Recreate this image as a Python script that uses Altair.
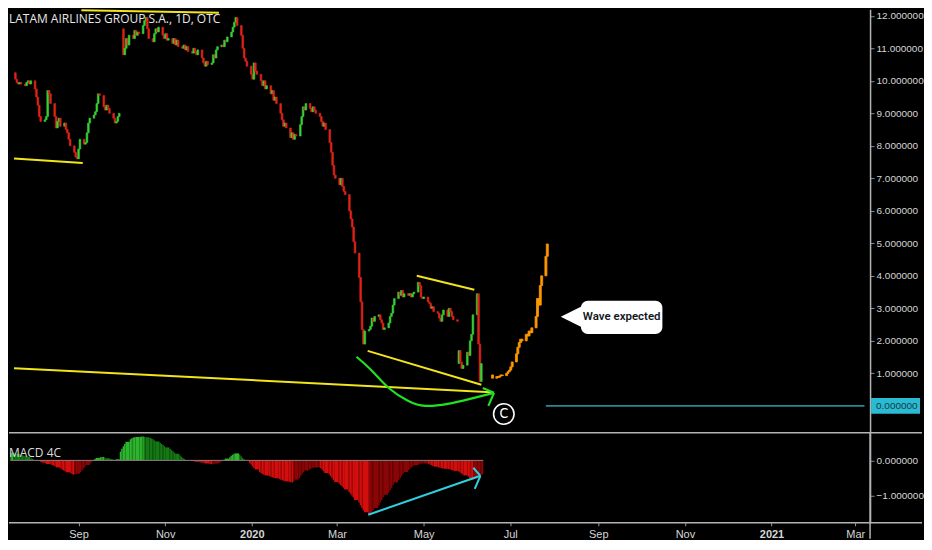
import altair as alt
import pandas as pd

# ---------------- data ----------------
title_text = "LATAM AIRLINES GROUP S.A., 1D, OTC"

# daily closes, business days 2019-07-15 .. 2020-06-11 (5 per row = one week)
closes = [
    10.05, 9.95, 9.9, 9.95, 9.9,
    9.85, 9.95, 10.0, 9.9, 10.0,
    9.75, 9.5, 9.25, 8.9, 8.75,
    8.8, 8.9, 9.7, 9.6, 9.3,
    8.9, 8.55, 8.75, 8.85, 8.6,
    8.7, 8.5, 8.4, 8.2, 8.0,
    7.8, 7.65, 7.6, 7.9, 8.2,
    8.05, 8.1, 8.4, 8.7, 8.85,
    8.95, 9.05, 9.3, 9.6, 9.55,
    9.2, 9.1, 9.25, 9.15, 9.0,
    8.85, 8.7, 8.75, 8.9, 9.0,
    10.8, 11.0, 11.3, 11.1, 11.4,
    11.3, 11.55, 11.4, 11.5, 11.45,
    11.7, 11.85, 11.95, 11.6, 11.3,
    11.2, 11.45, 11.6, 11.5, 11.65,
    11.4, 11.3, 11.45, 11.25, 11.3,
    11.15, 11.3, 11.1, 11.25, 11.05,
    11.0, 11.1, 10.95, 11.05, 10.9,
    10.85, 11.0, 10.9, 10.8, 10.95,
    10.7, 10.55, 10.45, 10.6, 10.5,
    10.55, 10.8, 10.7, 10.95, 11.05,
    11.1, 11.05, 11.25, 11.2, 11.35,
    11.5, 11.65, 11.8, 11.95, 11.7,
    11.4, 11.0, 10.7, 10.6, 10.45,
    10.2, 10.05, 10.55, 10.3, 10.2,
    10.0, 9.85, 10.0, 9.75, 9.85,
    9.6, 9.7, 9.4, 9.5, 9.3,
    9.0, 8.8, 8.6, 8.7, 8.55,
    8.25, 8.4, 8.2, 8.35, 8.3,
    8.65, 8.9, 9.2, 9.1, 9.3,
    9.15, 9.05, 9.2, 9.1, 9.0,
    8.9, 8.75, 8.6, 8.7, 8.5,
    8.1, 7.8, 7.4, 7.1, 7.0,
    6.8, 7.0, 6.75, 6.6, 6.5,
    6.0, 5.75, 5.5, 5.05, 4.7,
    3.95, 3.2, 2.35, 1.9, 2.3,
    2.35, 2.45, 2.7, 2.6, 2.75,
    2.8, 2.65, 2.55, 2.35, 2.4,
    2.55, 2.75, 2.85, 3.1, 3.3,
    3.5, 3.4, 3.55, 3.35, 3.45,
    3.4, 3.45, 3.35, 3.45, 3.5,
    3.8, 3.7, 3.35, 3.3, 3.35,
    3.2, 3.15, 3.0, 3.05, 2.9,
    2.85, 2.7, 2.6, 2.8, 2.95,
    2.75, 3.0, 2.9, 2.75, 2.65,
    2.6, 1.7, 1.35, 1.15, 1.25,
    1.65, 1.55, 2.0, 2.2, 2.8,
    3.45, 1.9, 0.75, 1.3,
]
# opens that differ from the previous close (price gaps)
gap_opens = {"2019-07-15": 10.25, "2019-09-30": 11.6, "2020-05-26": 1.3}

# MACD 4C histogram, same business days
macd = [
    0.22, 0.22, 0.21, 0.20, 0.19,
    0.16, 0.15, 0.13, 0.12, 0.10,
    0.06, 0.04, 0.02, 0.00, -0.02,
    -0.05, -0.06, -0.07, -0.08, -0.10,
    -0.12, -0.13, -0.15, -0.17, -0.20,
    -0.23, -0.26, -0.29, -0.31, -0.34,
    -0.37, -0.39, -0.41, -0.40, -0.38,
    -0.33, -0.28, -0.23, -0.18, -0.13,
    -0.08, -0.03, 0.01, 0.04, 0.07,
    0.09, 0.10, 0.10, 0.08, 0.06,
    0.04, 0.03, 0.02, 0.01, 0.03,
    0.25, 0.33, 0.40, 0.47, 0.53,
    0.60, 0.63, 0.65, 0.66, 0.67,
    0.67, 0.68, 0.68, 0.67, 0.66,
    0.64, 0.62, 0.60, 0.57, 0.54,
    0.50, 0.47, 0.44, 0.40, 0.37,
    0.33, 0.29, 0.26, 0.22, 0.19,
    0.14, 0.10, 0.07, 0.04, 0.01,
    -0.01, -0.02, -0.02, -0.03, -0.04,
    -0.05, -0.06, -0.07, -0.08, -0.09,
    -0.10, -0.11, -0.11, -0.10, -0.09,
    -0.07, -0.04, -0.01, 0.02, 0.05,
    0.09, 0.13, 0.16, 0.19, 0.20,
    0.17, 0.12, 0.07, 0.03, 0.00,
    -0.08, -0.12, -0.17, -0.22, -0.26,
    -0.33, -0.36, -0.39, -0.41, -0.43,
    -0.45, -0.47, -0.48, -0.50, -0.51,
    -0.53, -0.55, -0.57, -0.58, -0.60,
    -0.61, -0.62, -0.63, -0.60, -0.55,
    -0.50, -0.44, -0.38, -0.33, -0.29,
    -0.26, -0.24, -0.22, -0.21, -0.20,
    -0.20, -0.22, -0.26, -0.31, -0.36,
    -0.40, -0.45, -0.50, -0.56, -0.62,
    -0.66, -0.70, -0.74, -0.78, -0.83,
    -0.90, -0.95, -1.00, -1.06, -1.13,
    -1.20, -1.28, -1.35, -1.42, -1.48,
    -1.55, -1.52, -1.47, -1.42, -1.36,
    -1.28, -1.20, -1.13, -1.06, -0.98,
    -0.92, -0.85, -0.78, -0.70, -0.63,
    -0.56, -0.50, -0.44, -0.38, -0.33,
    -0.28, -0.24, -0.20, -0.17, -0.14,
    -0.12, -0.10, -0.09, -0.09, -0.09,
    -0.10, -0.12, -0.14, -0.16, -0.18,
    -0.20, -0.21, -0.22, -0.23, -0.24,
    -0.25, -0.26, -0.27, -0.28, -0.30,
    -0.31, -0.34, -0.37, -0.40, -0.43,
    -0.46, -0.50, -0.53, -0.55, -0.52,
    -0.48, -0.45, -0.42, -0.40,
]

# projected path (orange bars)
proj_dates = ["2020-06-19", "2020-06-22", "2020-06-23", "2020-06-24", "2020-06-25",
              "2020-06-26", "2020-06-29", "2020-06-30", "2020-07-01", "2020-07-02",
              "2020-07-03", "2020-07-06", "2020-07-07", "2020-07-08", "2020-07-09",
              "2020-07-10", "2020-07-13", "2020-07-14", "2020-07-15", "2020-07-16",
              "2020-07-17", "2020-07-20", "2020-07-21", "2020-07-22", "2020-07-23",
              "2020-07-24", "2020-07-27", "2020-07-28"]
proj_close = [0.85, 0.9, 0.88, 0.92, 0.95, 0.93, 1.0, 1.05, 1.1, 1.2,
              1.35, 1.6, 1.8, 1.95, 2.05, 2.0, 2.2, 2.15, 2.3, 2.25,
              2.4, 2.75, 3.3, 3.1, 3.7, 4.0, 4.6, 4.98]
proj_first_open = 0.95

# drawn trend lines (yellow): start date, start price, end date, end price
yl_d1 = ["2019-08-31", "2019-07-14", "2020-04-26", "2020-03-22", "2019-07-14"]
yl_p1 = [12.17, 7.61, 4.0, 1.69, 1.16]
yl_d2 = ["2019-12-07", "2019-09-01", "2020-06-06", "2020-06-11", "2020-06-18"]
yl_p2 = [12.09, 7.47, 3.57, 0.65, 0.42]

# green curved arrow
arc_dates = ["2020-03-14", "2020-03-25", "2020-04-06", "2020-04-20", "2020-05-02",
             "2020-05-18", "2020-06-03", "2020-06-20"]
arc_prices = [1.51, 1.08, 0.55, 0.15, 0.0, 0.06, 0.215, 0.4]
arc_head_d = ["2020-06-12", "2020-06-16"]
arc_head_p = [0.55, 0.0]

wave_label = "Wave expected"
wave_date = "2020-09-19"
wave_price = 2.72
box_d = ["2020-08-21", "2020-10-18"]
box_p = [3.23, 2.21]
pointer_date = "2020-08-15"
pointer_price = 2.74

circle_date = "2020-06-27"
circle_price = -0.25
circle_text = "C"

level_line = ("2020-07-27", "2021-03-11", 0.0)
level_label = "0.000000"

# cyan arrow on MACD
macd_arrow = [("2020-03-23", -1.55, "2020-06-10", -0.44),
              ("2020-06-10", -0.44, "2020-06-05", -0.21),
              ("2020-06-10", -0.44, "2020-06-06", -0.81)]
macd_label = "MACD 4C"

price_ticks = [1, 2, 3, 4, 5, 6, 7, 8, 9, 10, 11, 12]
macd_ticks = [0, -1]

# ---------------- styling ----------------
W, HP, HM = 862, 424, 90
BG = "#000000"
UP, DOWN = "#35d335", "#e2231a"
ORANGE = "#ff9800"
YELLOW = "#f2e51c"
ARC = "#22e022"
TEAL = "#2d8793"
BOXC = "#2bbad3"
CYAN = "#30d0e0"
LINEC = "#b4b4b4"
LABELC = "#d6d6d6"
AXFONT = "Liberation Sans"
AXFS = 10

x_dom = [alt.DateTime(year=2019, month=7, date=14, utc=True),
         alt.DateTime(year=2021, month=3, date=11, hours=10, utc=True)]
xscale = alt.Scale(type="utc", domain=x_dom)
yscale = alt.Scale(domain=[-0.83, 12.2], nice=False, zero=False)
mscale = alt.Scale(domain=[-1.778, 0.786], nice=False, zero=False)

yax = alt.Axis(orient="right", values=price_ticks, format=".6f", grid=False,
               tickSize=4, tickColor="#8c8c8c", domainColor=LINEC, domainWidth=1.5,
               labelColor=LABELC, labelFontSize=AXFS, labelFont=AXFONT, labelPadding=2)
max_ = alt.Axis(orient="right", values=macd_ticks, format=".6f", grid=False,
                tickSize=4, tickColor="#8c8c8c", domainColor=LINEC, domainWidth=1.5,
                labelColor=LABELC, labelFontSize=AXFS, labelFont=AXFONT, labelPadding=2)

xax = alt.Axis(
    orient="bottom",
    values=[alt.DateTime(year=2019, month=9, date=1, utc=True),
            alt.DateTime(year=2019, month=11, date=1, utc=True),
            alt.DateTime(year=2020, month=1, date=1, utc=True),
            alt.DateTime(year=2020, month=3, date=1, utc=True),
            alt.DateTime(year=2020, month=5, date=1, utc=True),
            alt.DateTime(year=2020, month=7, date=1, utc=True),
            alt.DateTime(year=2020, month=9, date=1, utc=True),
            alt.DateTime(year=2020, month=11, date=1, utc=True),
            alt.DateTime(year=2021, month=1, date=1, utc=True),
            alt.DateTime(year=2021, month=3, date=1, utc=True)],
    labelExpr="utcmonth(datum.value) === 0 ? utcFormat(datum.value, '%Y') : utcFormat(datum.value, '%b')",
    labelFontWeight={"condition": {"test": "utcmonth(datum.value) === 0", "value": "bold"},
                     "value": "normal"},
    domain=False, grid=False, tickSize=3, tickColor="#9a9a9a",
    labelColor=LABELC, labelFontSize=11, labelFont=AXFONT, labelPadding=3,
    labelFlush=False, labelOverlap=False)


def X(f):
    return alt.X(f, type="temporal", scale=xscale, axis=None, title=None)


def Y(f):
    return alt.Y(f, type="quantitative", scale=yscale, axis=yax, title=None)


def MX(f):
    return alt.X(f, type="temporal", scale=xscale, axis=xax, title=None)


def MY(f):
    return alt.Y(f, type="quantitative", scale=mscale, axis=max_, title=None)


# ---------------- frames ----------------
dates = pd.bdate_range("2019-07-15", "2020-06-11")
assert len(dates) == len(closes) == len(macd)
dstr = list(dates.strftime("%Y-%m-%d"))
opens = []
for i, d in enumerate(dstr):
    if d in gap_opens:
        opens.append(gap_opens[d])
    else:
        opens.append(closes[i - 1])
cdf = pd.DataFrame({"date": dstr, "open": opens, "close": closes})
cdf["dir"] = ["up" if c >= o else "down" for o, c in zip(opens, closes)]

pdf = pd.DataFrame({"date": proj_dates, "close": proj_close})
pdf["open"] = [proj_first_open] + proj_close[:-1]

ydf = pd.DataFrame({"d1": yl_d1, "p1": yl_p1, "d2": yl_d2, "p2": yl_p2})
adf = pd.DataFrame({"d": arc_dates, "p": arc_prices})
hdf = pd.DataFrame({"d1": [arc_dates[-1]] * 2, "p1": [arc_prices[-1]] * 2,
                    "d2": arc_head_d, "p2": arc_head_p})

# ---------------- price panel ----------------
dir_scale = alt.Scale(domain=["up", "down"], range=[UP, DOWN])
candles = alt.Chart(cdf).mark_bar(size=1.7, strokeWidth=0.6).encode(
    x=X("date"), y=Y("open"), y2="close",
    color=alt.Color("dir:N", scale=dir_scale, legend=None),
    stroke=alt.Stroke("dir:N", scale=dir_scale, legend=None),
)
proj = alt.Chart(pdf).mark_bar(size=2, color=ORANGE, stroke=ORANGE, strokeWidth=0.8).encode(
    x=X("date"), y=Y("open"), y2="close")
ylines = alt.Chart(ydf).mark_rule(color=YELLOW, strokeWidth=2).encode(
    x=X("d1"), x2="d2", y=Y("p1"), y2="p2")
arc = alt.Chart(adf).mark_line(color=ARC, strokeWidth=2.2, interpolate="natural").encode(
    x=X("d"), y=Y("p"))
head = alt.Chart(hdf).mark_rule(color=ARC, strokeWidth=2.2).encode(
    x=X("d1"), x2="d2", y=Y("p1"), y2="p2")
cdf2 = pd.DataFrame({"d": [circle_date], "p": [circle_price], "t": [circle_text]})
circ = alt.Chart(cdf2).mark_point(shape="circle", size=420, filled=False, color="white",
                                  strokeWidth=1.6, opacity=1).encode(x=X("d"), y=Y("p"))
ctext = alt.Chart(cdf2).mark_text(color="white", fontSize=14, font="DejaVu Sans Condensed",
                                  baseline="middle", align="center").encode(
    x=X("d"), y=Y("p"), text="t:N")
lvl = pd.DataFrame({"d1": [level_line[0]], "d2": [level_line[1]], "p": [level_line[2]],
                    "hi": [0.245], "lo": [-0.245], "t": [level_label]})
level = alt.Chart(lvl).mark_rule(color=TEAL, strokeWidth=1.6).encode(
    x=X("d1"), x2="d2", y=Y("p"))
lbox = alt.Chart(lvl).mark_rect(color=BOXC).encode(
    x=alt.value(W + 1), x2=alt.value(W + 50), y=Y("hi"), y2="lo")
ltext = alt.Chart(lvl).mark_text(color="#173c44", fontSize=AXFS, font=AXFONT, align="left",
                                 baseline="middle").encode(
    x=alt.value(W + 6), y=Y("p"), text="t:N")
bdf = pd.DataFrame({"d1": [box_d[0]], "d2": [box_d[1]], "p1": [box_p[0]], "p2": [box_p[1]]})
cbox = alt.Chart(bdf).mark_rect(color="white", cornerRadius=7).encode(
    x=X("d1"), x2="d2", y=Y("p1"), y2="p2")
pdf2 = pd.DataFrame({"d": [pointer_date], "p": [pointer_price]})
pointer = alt.Chart(pdf2).mark_point(shape="M -1 0 L 1 -1 L 1 1 Z", size=560, filled=True,
                                     color="white", opacity=1).encode(x=X("d"), y=Y("p"))
wdf = pd.DataFrame({"d": [wave_date], "p": [wave_price], "t": [wave_label]})
wtext = alt.Chart(wdf).mark_text(color="#131722", fontSize=11.5, fontWeight=600, font="Roboto",
                                 align="center", baseline="middle").encode(
    x=X("d"), y=Y("p"), text="t:N")
tdf = pd.DataFrame({"t": [title_text]})
ttl = alt.Chart(tdf).mark_text(color="#e8e8e8", fontSize=12, font="Open Sans", align="left",
                               baseline="middle").encode(
    x=alt.value(0), y=alt.value(10), text="t:N")

top = alt.layer(candles, proj, ylines, arc, head, circ, ctext, level, lbox, ltext,
                cbox, pointer, wtext, ttl).properties(width=W, height=HP)

# ---------------- MACD panel ----------------
mdf = pd.DataFrame({"date": dstr, "val": macd})
nxt = dstr[1:] + ["2020-06-12"]
mdf["next"] = nxt
mdf["zero"] = 0.0
cats = []
prev = None
for v in macd:
    rising = prev is None or v >= prev
    if v >= 0:
        cats.append("pos_up" if rising else "pos_dn")
    else:
        cats.append("neg_up" if rising else "neg_dn")
    prev = v
mdf["cat"] = cats

hist = alt.Chart(mdf).mark_bar().encode(
    x=MX("date"), x2="next", y=MY("val"), y2="zero",
    color=alt.Color("cat:N", scale=alt.Scale(domain=["pos_up", "pos_dn", "neg_dn", "neg_up"],
                                             range=["#2db52d", "#147814", "#d40d0d", "#8a0606"]),
                    legend=None))
zdf = pd.DataFrame({"d1": [dstr[0]], "d2": [nxt[-1]], "v": [0.0]})
zline = alt.Chart(zdf).mark_rule(color="#8c7f7f", strokeWidth=1).encode(
    x=MX("d1"), x2="d2", y=MY("v"))
ardf = pd.DataFrame(macd_arrow, columns=["d1", "v1", "d2", "v2"])
arrow = alt.Chart(ardf).mark_rule(color=CYAN, strokeWidth=2).encode(
    x=MX("d1"), x2="d2", y=MY("v1"), y2="v2")
mlab = alt.Chart(pd.DataFrame({"t": [macd_label]})).mark_text(
    color="#dcdcdc", fontSize=12, font="Open Sans", align="left", baseline="middle").encode(
    x=alt.value(0), y=alt.value(20), text="t:N")
one = pd.DataFrame({"k": [0]})
sep_top = alt.Chart(one).mark_rule(color=LINEC, strokeWidth=1.5).encode(
    x=alt.value(0), x2=alt.value(W + 52), y=alt.value(0))
sep_bot = alt.Chart(one).mark_rule(color=LINEC, strokeWidth=1.5).encode(
    x=alt.value(0), x2=alt.value(W + 52), y=alt.value(HM))
vline = alt.Chart(one).mark_rule(color=LINEC, strokeWidth=1.5).encode(
    x=alt.value(W), y=alt.value(0), y2=alt.value(HM + 16))

bottom = alt.layer(hist, zline, arrow, mlab, sep_top, sep_bot, vline).properties(width=W, height=HM)

chart = alt.vconcat(top, bottom, spacing=0).resolve_scale(
    x="independent", y="independent", color="independent", stroke="independent").properties(
    bounds="flush", padding=0, background=BG).configure_view(stroke=None)

chart.save("out.html", embed_options={"renderer": "svg", "actions": False})
